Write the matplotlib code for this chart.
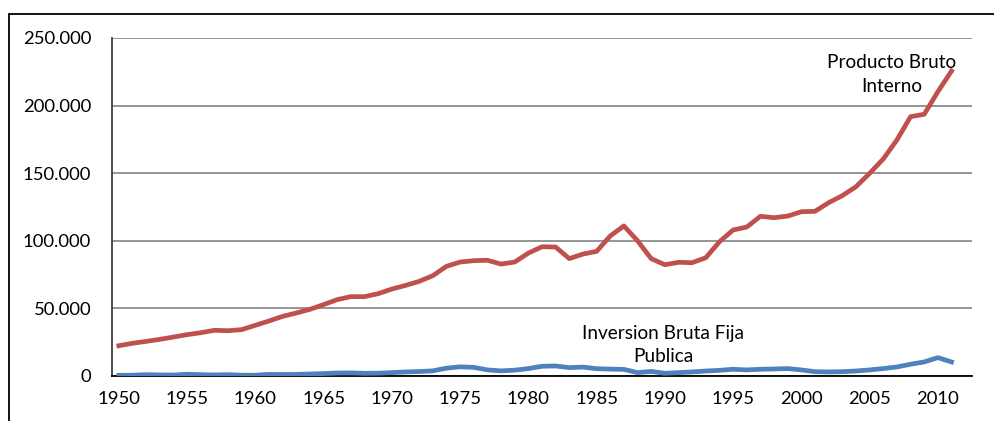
import numpy as np
import matplotlib
matplotlib.use('Agg')
import matplotlib.pyplot as plt
from matplotlib.patches import Rectangle
from matplotlib.ticker import FuncFormatter

plt.rcParams['font.family'] = ['Lato', 'DejaVu Sans']

years = list(range(1950, 2012))

# Producto Bruto Interno (miles)
pbi = [22.4, 24.2, 25.6, 27.1, 28.8, 30.6, 32.0, 33.8, 33.5, 34.3,
       37.5, 40.7, 44.1, 46.6, 49.3, 52.8, 56.5, 58.7, 58.7, 60.9,
       64.3, 67.0, 70.0, 74.2, 81.1, 84.3, 85.3, 85.6, 82.8, 84.3,
       90.9, 95.6, 95.4, 86.8, 90.2, 92.2, 103.6, 111.0, 100.0, 86.8,
       82.3, 84.1, 83.8, 87.5, 99.3, 108.0, 110.2, 118.1, 117.1, 118.3,
       121.5, 121.8, 128.2, 133.4, 140.0, 149.9, 160.5, 174.6, 191.8, 193.6,
       210.3, 225.6]

# Inversion Bruta Fija Publica (miles)
ibf = [0.5, 0.6, 1.0, 0.8, 0.7, 1.3, 1.0, 0.8, 1.0, 0.6,
       0.6, 1.2, 1.1, 1.2, 1.5, 1.8, 2.2, 2.3, 2.0, 2.1,
       2.5, 3.0, 3.3, 3.8, 5.8, 6.8, 6.4, 4.5, 3.8, 4.3,
       5.5, 7.2, 7.4, 6.2, 6.6, 5.4, 5.1, 4.9, 2.5, 3.4,
       2.0, 2.5, 3.0, 3.7, 4.2, 5.0, 4.5, 5.0, 5.2, 5.5,
       4.5, 3.2, 3.0, 3.2, 3.7, 4.5, 5.5, 6.7, 8.7, 10.4,
       13.6, 10.4]

pbi = np.array(pbi) * 1000
ibf = np.array(ibf) * 1000

W, H = 995, 421
fig = plt.figure(figsize=(W / 100, H / 100), dpi=100)
ax = fig.add_axes([112 / W, 1 - 376 / H, (972 - 112) / W, (376 - 38) / H])

ax.plot(years, pbi, color='#C0504D', lw=3.4, solid_joinstyle='round', zorder=3)
ax.plot(years, ibf, color='#4F81BD', lw=3.4, solid_joinstyle='round', zorder=3)

ax.set_xlim(1949.5, 2012.5)
ax.set_ylim(0, 250000)
ax.set_yticks(np.arange(0, 250001, 50000))
ax.set_xticks(range(1950, 2011, 5))
ax.yaxis.set_major_formatter(FuncFormatter(lambda v, p: '0' if v == 0 else f'{int(v):,}'.replace(',', '.')))
ax.grid(axis='y', color='#8c8c8c', lw=1.3)
ax.set_axisbelow(True)
ax.tick_params(length=0, labelsize=13.3, colors='black')
ax.tick_params(axis='y', pad=15)
ax.tick_params(axis='x', pad=11)

for s in ['top', 'right']:
    ax.spines[s].set_visible(False)
ax.spines['left'].set_color('#404040')
ax.spines['left'].set_linewidth(1.3)
ax.spines['bottom'].set_color('black')
ax.spines['bottom'].set_linewidth(1.3)

ax.text(2006.6, 238000, 'Producto Bruto\nInterno', ha='center', va='top',
        fontsize=13.7, linespacing=1.45)
ax.text(1989.9, 38000, 'Inversion Bruta Fija\nPublica', ha='center', va='top',
        fontsize=13.7, linespacing=1.45)

# outer chart frame (partially cropped)
fig.add_artist(Rectangle((9 / W, -0.2), 1.2, 1.2 - 14 / H, transform=fig.transFigure,
                         fill=False, ec='black', lw=1.3))

fig.savefig('out.png', dpi=100)
